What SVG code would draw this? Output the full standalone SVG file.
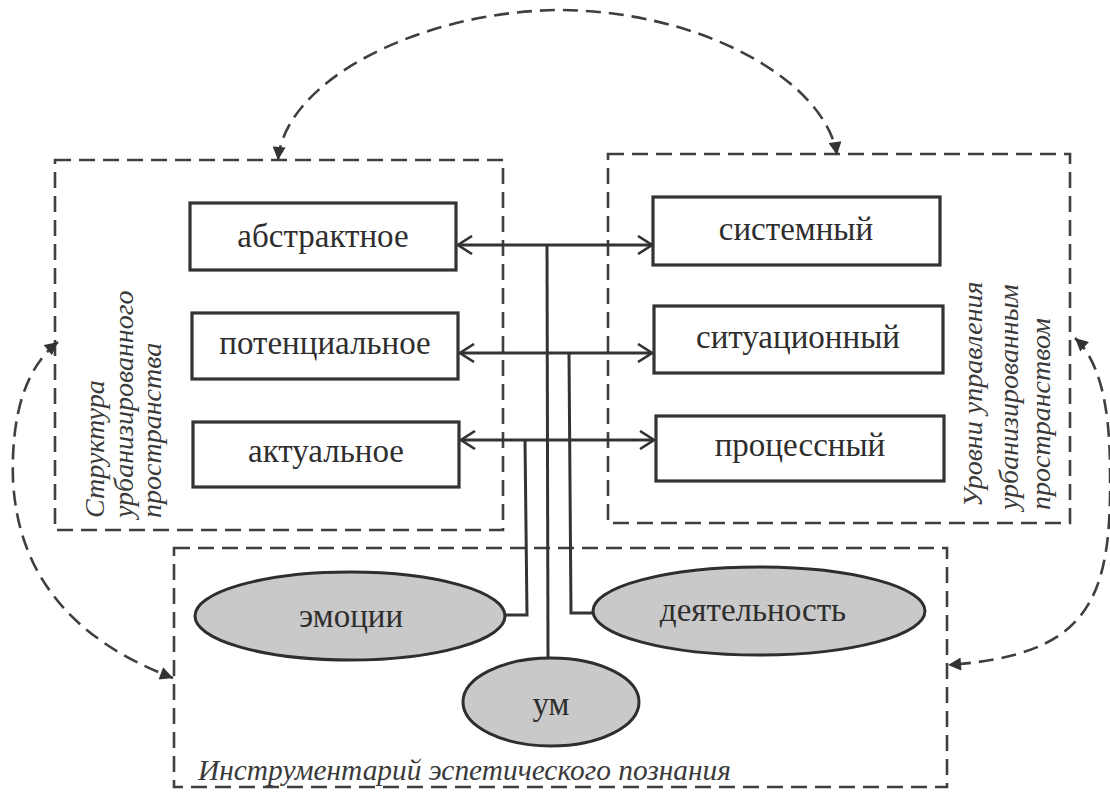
<svg xmlns="http://www.w3.org/2000/svg" width="1110" height="794" viewBox="0 0 1110 794">
<defs>
<style>
.frame{fill:none;stroke:#3f3f3f;stroke-width:2.6;stroke-dasharray:16 8}
.box{fill:#fff;stroke:#333;stroke-width:3.2}
.oval{fill:#c9c9c9;stroke:#2e2e2e;stroke-width:3}
.t{font-size:33px;fill:#2e2e2e;text-anchor:middle}
.lab{font-size:28px;font-style:italic;fill:#3a3a3a}
.con{fill:none;stroke:#333;stroke-width:3}
.dcon{fill:none;stroke:#3f3f3f;stroke-width:2.6;stroke-dasharray:15 8}
</style>
<marker id="open" viewBox="0 0 16 20" refX="15" refY="10" markerWidth="16" markerHeight="20" markerUnits="userSpaceOnUse" orient="auto-start-reverse">
<path d="M1,1 L15,10 L1,19" fill="none" stroke="#333" stroke-width="2.6"/>
</marker>
<marker id="fill" viewBox="0 0 10 10" refX="10" refY="5" markerWidth="14" markerHeight="13" markerUnits="userSpaceOnUse" orient="auto-start-reverse">
<path d="M0,0 L10,5 L0,10 z" fill="#333"/>
</marker>
</defs>
<rect width="1110" height="794" fill="#fff"/>

<g id="frame-structure" font-family="Liberation Serif, DejaVu Serif, serif">
<rect class="frame" x="55" y="160" width="448" height="370"/>
<text class="lab" transform="translate(104,518) rotate(-90)">Структура</text>
<text class="lab" transform="translate(133,518) rotate(-90)">урбанизированного</text>
<text class="lab" transform="translate(161,518) rotate(-90)">пространства</text>
</g>
<g id="frame-levels" font-family="Liberation Serif, DejaVu Serif, serif">
<rect class="frame" x="608" y="154" width="462" height="369"/>
<text class="lab" transform="translate(982,507) rotate(-90)">Уровни управления</text>
<text class="lab" transform="translate(1018,510) rotate(-90)">урбанизированным</text>
<text class="lab" transform="translate(1050,510) rotate(-90)">пространством</text>
</g>
<g id="frame-tools" font-family="Liberation Serif, DejaVu Serif, serif">
<rect class="frame" x="174" y="548" width="773" height="239"/>
<text class="lab" x="198" y="780" style="font-size:29.4px">Инструментарий эспетического познания</text>
</g>

<g id="connectors">
<path class="dcon" d="M278,160 C285,80 420,12 557,10 C700,10 825,80 837,155" marker-start="url(#fill)" marker-end="url(#fill)"/>
<path class="dcon" d="M58,342 Q10,380 13,480 Q20,620 173,678" marker-start="url(#fill)" marker-end="url(#fill)"/>
<path class="dcon" d="M1075,338 Q1110,370 1110,470 C1112,600 1090,655 948,665" marker-start="url(#fill)" marker-end="url(#fill)"/>
<path class="con" d="M458,245 L652,245" marker-start="url(#open)" marker-end="url(#open)"/>
<path class="con" d="M460,353 L652,353" marker-start="url(#open)" marker-end="url(#open)"/>
<path class="con" d="M461,440 L654,440" marker-start="url(#open)" marker-end="url(#open)"/>
<path class="con" d="M547,245 L548,658"/>
<path class="con" d="M569,353 L571,613 L593,613"/>
<path class="con" d="M525,440 L527,615 L506,615"/>
</g>

<g font-family="Liberation Serif, DejaVu Serif, serif">
<g id="n-abstract"><rect class="box" x="190" y="203" width="266" height="67"/><text class="t" x="323" y="247">абстрактное</text></g>
<g id="n-potential"><rect class="box" x="192" y="313" width="266" height="66"/><text class="t" x="325" y="354">потенциальное</text></g>
<g id="n-actual"><rect class="box" x="193" y="422" width="266" height="65"/><text class="t" x="326" y="462">актуальное</text></g>
<g id="n-system"><rect class="box" x="653" y="197" width="287" height="68"/><text class="t" x="796" y="240">системный</text></g>
<g id="n-situation"><rect class="box" x="654" y="306" width="289" height="67"/><text class="t" x="798" y="348">ситуационный</text></g>
<g id="n-process"><rect class="box" x="656" y="416" width="288" height="65"/><text class="t" x="800" y="456">процессный</text></g>
<g id="n-emotions"><ellipse class="oval" cx="350" cy="616" rx="155" ry="44"/><text class="t" x="351" y="627">эмоции</text></g>
<g id="n-activity"><ellipse class="oval" cx="759" cy="611" rx="166" ry="44"/><text class="t" x="753" y="621">деятельность</text></g>
<g id="n-mind"><ellipse class="oval" cx="551" cy="702" rx="88" ry="44"/><text class="t" x="551" y="715">ум</text></g>
</g>
</svg>
